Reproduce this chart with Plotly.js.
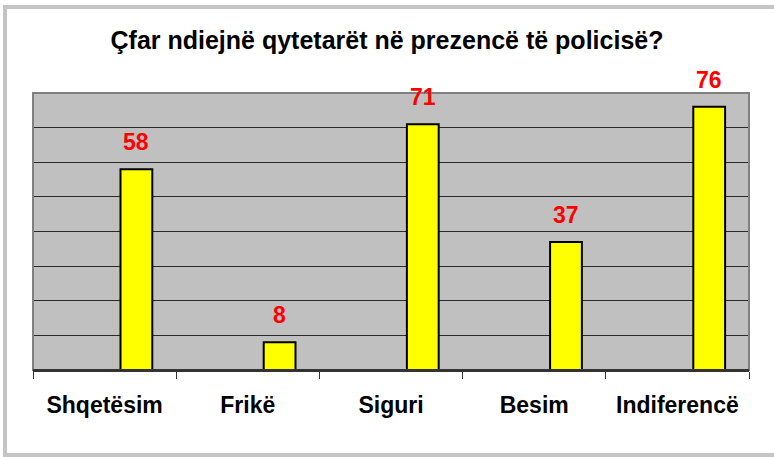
<!DOCTYPE html>
<html>
<head>
<meta charset="utf-8">
<script src="https://cdn.plot.ly/plotly-3.0.1.min.js"></script>
<style>html,body{margin:0;padding:0;background:#fff;}#chart{width:774px;height:457px;}</style>
</head>
<body>
<div id="chart"></div>
<script>
const categories = ["Shqetësim", "Frikë", "Siguri", "Besim", "Indiferencë"];
const values = [58, 8, 71, 37, 76];
const titleText = "Çfar ndiejnë qytetarët në prezencë të policisë?";

const FONT = "Arial, 'Liberation Sans', sans-serif";
const L = 33, R = 25, T = 93, B = 87, W = 774, H = 457;
const pw = W - L - R, ph = H - T - B;
const px = p => (p - L) / pw;
const py = p => (H - B - p) / ph;

const BAR_W = 0.222;

const trace = {
  type: "bar",
  x: categories,
  y: values,
  width: BAR_W,
  offset: BAR_W / 2,
  marker: { color: "#FFFF00", line: { color: "#000000", width: 2 } },
  hoverinfo: "none"
};

const annotations = values.map((v, i) => ({
  x: i + BAR_W,
  y: v,
  xref: "x",
  yref: "y",
  text: "<b>" + v + "</b>",
  showarrow: false,
  yanchor: "middle",
  xanchor: "center",
  yshift: 27,
  font: { family: FONT, size: 23, color: "#FF0000" }
}));

const layout = {
  width: W,
  height: H,
  margin: { l: L, r: R, t: T, b: B, pad: 0 },
  paper_bgcolor: "#FFFFFF",
  plot_bgcolor: "#C0C0C0",
  showlegend: false,
  title: {
    text: "<b>" + titleText + "</b>",
    font: { family: FONT, size: 25, color: "#000000" },
    x: 0.5,
    xanchor: "center",
    y: 1 - 40 / H,
    yanchor: "middle"
  },
  xaxis: {
    type: "category",
    range: [-0.5, categories.length - 0.5],
    tickson: "boundaries",
    ticks: "outside",
    ticklen: 7,
    tickwidth: 1,
    tickcolor: "#333333",
    showline: true,
    linecolor: "#333333",
    linewidth: 2,
    showgrid: false,
    ticklabelstandoff: 13,
    tickfont: { family: FONT, size: 23, color: "#000000", weight: "bold" },
    fixedrange: true
  },
  yaxis: {
    range: [0, 80],
    dtick: 10,
    showticklabels: false,
    ticks: "",
    showgrid: true,
    gridcolor: "#2a2a2a",
    gridwidth: 1,
    zeroline: false,
    showline: false,
    fixedrange: true
  },
  annotations: annotations,
  shapes: [
    {
      type: "rect", xref: "paper", yref: "paper",
      x0: 0, x1: 1, y0: 0, y1: 1,
      line: { color: "#808080", width: 2 },
      layer: "above"
    },
    {
      type: "line", xref: "paper", yref: "paper",
      x0: 0, x1: 1, y0: 0, y1: 0,
      line: { color: "#333333", width: 2 },
      layer: "above"
    },
    {
      type: "rect", xref: "paper", yref: "paper",
      x0: px(5), x1: px(800), y0: py(7), y1: py(455),
      line: { color: "#C4C4C4", width: 4 },
      layer: "below"
    }
  ]
};

Plotly.newPlot("chart", [trace], layout, { displayModeBar: false, staticPlot: true });
</script>
</body>
</html>
